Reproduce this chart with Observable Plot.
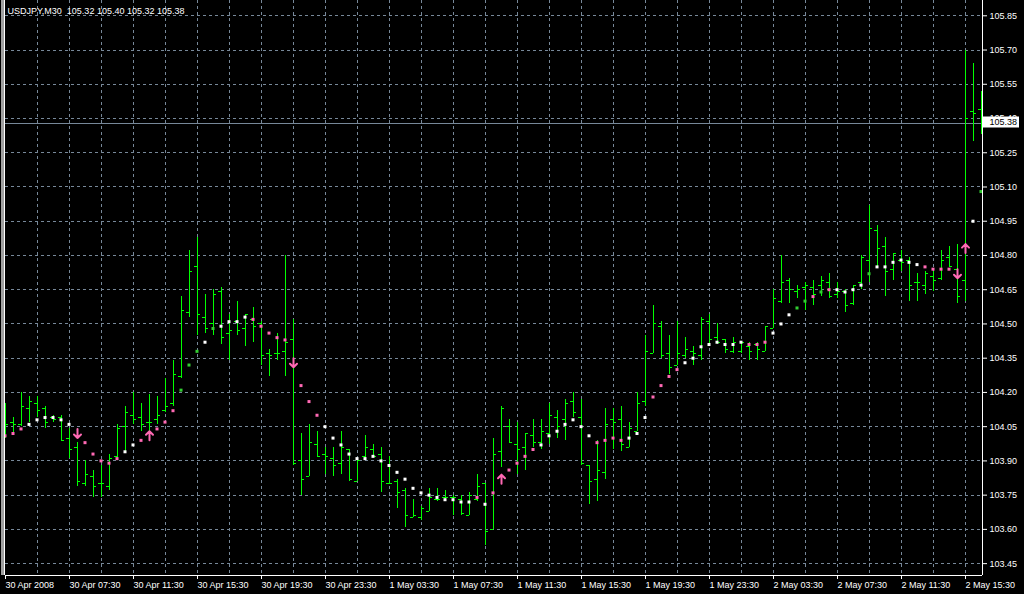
<!DOCTYPE html>
<html><head><meta charset="utf-8">
<script src="https://cdn.jsdelivr.net/npm/d3@7"></script>
<script src="https://cdn.jsdelivr.net/npm/@observablehq/plot@0.6"></script>
<style>
html,body{margin:0;padding:0;background:#000;overflow:hidden}
#chart{width:1024px;height:594px}
</style></head><body><div id="chart"></div>
<script>
const titleText = "USDJPY,M30  105.32 105.40 105.32 105.38";
const lastPrice = 105.38;

const opens = [104.03,104.07,104.06,104.13,104.15,104.13,104.09,104.09,104.00,103.96,
103.80,103.83,103.80,103.79,103.92,104.05,104.10,104.09,104.07,104.08,
104.12,104.15,104.27,104.55,104.75,104.53,104.50,104.64,104.46,104.51,
104.48,104.52,104.50,104.37,104.37,104.38,104.43,103.90,103.83,103.97,
103.93,103.91,103.89,103.95,103.81,103.92,103.95,103.93,103.80,103.81,
103.77,103.65,103.65,103.68,103.73,103.74,103.74,103.73,103.66,103.73,
103.80,103.60,103.94,104.05,103.97,103.96,104.01,103.98,104.02,104.09,
104.08,104.16,104.09,103.88,103.82,103.85,104.08,104.08,103.96,104.03,
104.16,104.37,104.49,104.37,104.32,104.36,104.38,104.36,104.51,104.44,
104.43,104.38,104.38,104.40,104.41,104.38,104.48,104.60,104.69,104.64,
104.66,104.66,104.67,104.68,104.63,104.64,104.59,104.68,104.78,104.91,
104.84,104.74,104.78,104.78,104.68,104.67,104.71,104.70,104.79,104.74,
104.69,105.43,105.44];
const highs = [104.15,104.09,104.20,104.18,104.18,104.14,104.10,104.10,104.04,103.98,
103.90,103.86,103.88,103.93,104.06,104.14,104.20,104.15,104.19,104.18,
104.26,104.34,104.62,104.82,104.88,104.63,104.65,104.66,104.54,104.60,
104.54,104.57,104.51,104.39,104.46,104.80,104.52,104.02,104.06,104.03,
103.96,103.96,104.03,103.95,103.91,104.01,103.97,103.96,103.92,103.82,
103.78,103.73,103.70,103.78,103.78,103.77,103.75,103.75,103.76,103.84,
103.80,104.00,104.14,104.08,104.07,104.02,104.08,104.08,104.15,104.12,
104.17,104.20,104.17,103.88,103.99,104.13,104.13,104.14,104.07,104.20,
104.45,104.58,104.51,104.45,104.51,104.44,104.40,104.53,104.54,104.50,
104.43,104.44,104.42,104.42,104.42,104.49,104.65,104.80,104.70,104.67,
104.68,104.69,104.71,104.72,104.68,104.65,104.67,104.80,105.02,104.93,
104.88,104.81,104.82,104.79,104.72,104.73,104.73,104.82,104.84,104.85,
105.70,105.64,105.52];
const lows = [104.00,104.02,104.05,104.07,104.09,104.04,104.07,103.99,103.91,103.79,
103.79,103.74,103.74,103.77,103.90,103.94,104.06,104.03,104.03,104.06,
104.11,104.14,104.26,104.53,104.45,104.46,104.45,104.41,104.34,104.45,
104.40,104.42,104.32,104.27,104.34,104.27,103.88,103.75,103.83,103.92,
103.84,103.83,103.84,103.81,103.81,103.91,103.92,103.76,103.80,103.69,
103.61,103.65,103.64,103.68,103.72,103.73,103.66,103.66,103.66,103.72,
103.53,103.60,103.87,103.98,103.84,103.86,103.96,103.95,103.97,104.00,
103.99,104.09,103.88,103.71,103.72,103.82,103.95,103.94,103.96,104.03,
104.14,104.37,104.35,104.28,104.32,104.35,104.32,104.34,104.41,104.41,
104.37,104.37,104.37,104.34,104.34,104.38,104.48,104.59,104.59,104.61,
104.56,104.58,104.62,104.61,104.61,104.55,104.58,104.65,104.68,104.75,
104.62,104.69,104.73,104.60,104.60,104.63,104.64,104.69,104.75,104.59,
104.60,105.30,105.33];
const closes = [104.06,104.06,104.14,104.16,104.12,104.07,104.08,103.99,103.95,103.81,
103.84,103.79,103.80,103.91,104.04,104.11,104.08,104.06,104.07,104.10,
104.14,104.28,104.56,104.73,104.54,104.48,104.63,104.44,104.47,104.47,
104.54,104.49,104.36,104.36,104.37,104.42,103.89,103.82,103.98,103.92,
103.92,103.88,103.96,103.82,103.90,103.96,103.92,103.81,103.80,103.76,
103.66,103.66,103.69,103.74,103.73,103.74,103.74,103.67,103.75,103.79,
103.59,103.93,104.13,103.98,103.95,104.02,103.98,104.03,104.10,104.05,
104.15,104.11,103.89,103.81,103.86,104.06,104.07,103.97,104.04,104.15,
104.38,104.50,104.36,104.31,104.37,104.39,104.37,104.52,104.43,104.42,
104.39,104.42,104.42,104.38,104.39,104.49,104.61,104.68,104.65,104.65,
104.67,104.63,104.69,104.62,104.64,104.58,104.67,104.79,104.92,104.83,
104.73,104.81,104.77,104.67,104.68,104.72,104.69,104.78,104.75,104.62,
105.40,105.42,105.38];

// indicator dots (null where an arrow is drawn instead)
const dotValues = [104.01,104.02,104.04,104.06,104.08,104.09,104.09,104.08,104.06,null,
103.98,103.93,103.90,103.89,103.91,103.94,103.97,103.99,null,104.04,
104.07,104.12,104.21,104.32,104.38,104.42,104.48,104.49,104.51,104.51,
104.53,104.52,104.49,104.46,104.44,104.43,null,104.23,104.16,104.10,
104.05,104.00,103.97,103.93,103.91,103.91,103.92,103.90,103.88,103.85,
103.82,103.78,103.76,103.75,103.74,103.73,103.73,103.72,103.72,103.74,
103.71,103.76,null,103.86,103.89,103.92,103.95,103.97,104.01,104.03,
104.06,104.08,104.05,104.01,103.98,103.99,104.00,103.99,104.00,104.02,
104.09,104.18,104.23,104.27,104.30,104.33,104.35,104.40,104.41,104.42,
104.41,104.41,104.42,104.41,104.41,104.42,104.46,104.50,104.54,104.57,
104.60,104.62,104.64,104.65,104.65,104.64,104.65,104.67,104.72,104.75,
104.75,104.77,104.78,104.77,104.76,104.75,104.74,104.74,104.74,null,
null,104.95,105.08];
// w = white, p = pink, g = green, x = arrow bar
const dotColors = [
  "pppwwwwwwx", "pppppwwpxp", "ppgggwgwww", "wpppppxppp", "wwwwwwwwww",
  "wwwwwwwwwp", "wpxppppwww", "wwwwppppww", "wppppwwwww", "wwwpppwwwg",
  "gpgpwwwwgw", "wwwwwppppx", "xwg"
].join("").split("");

const downArrows = [{i: 9, v: 104.02}, {i: 36, v: 104.33}, {i: 119, v: 104.72}];
const upArrows = [{i: 18, v: 104.01}, {i: 62, v: 103.82}, {i: 120, v: 104.83}];

const priceTicks = [103.45,103.60,103.75,103.90,104.05,104.20,104.35,104.50,104.65,104.80,104.95,105.10,105.25,105.40,105.55,105.70,105.85];
const labelBars = [0,8,16,24,32,40,48,56,64,72,80,88,96,104,112,120];
const timeLabels = ["30 Apr 2008","30 Apr 07:30","30 Apr 11:30","30 Apr 15:30","30 Apr 19:30","30 Apr 23:30",
"1 May 03:30","1 May 07:30","1 May 11:30","1 May 15:30","1 May 19:30","1 May 23:30",
"2 May 03:30","2 May 07:30","2 May 11:30","2 May 15:30"];

const bars = opens.map((o, i) => ({i, o, h: highs[i], l: lows[i], c: closes[i]}));
const dots = dotValues.map((v, i) => ({i, v, c: dotColors[i]})).filter(d => d.v != null);
const colorOf = {w: "#ffffff", p: "#ff69b4", g: "#32cd32"};
const gridBars = d3.range(4, 123, 4);
const xDomain = [0, 122.125];
const yDomain = [103.398, 105.917];
const GRID = "#778899";
const FONT = 9;

const arrowShape = {
  draw(ctx, l) {
    ctx.moveTo(0, 0); ctx.lineTo(0, -l);
    ctx.moveTo(-3.5, -l + 3.5); ctx.lineTo(0, -l); ctx.lineTo(3.5, -l + 3.5);
  }
};

const chart = Plot.plot({
  width: 1024, height: 594,
  marginLeft: 5, marginRight: 42, marginTop: 0, marginBottom: 19,
  style: {background: "#000", fontFamily: "'Liberation Sans', Arial, sans-serif", color: "#fff"},
  x: {domain: xDomain, axis: null},
  y: {domain: yDomain, axis: null},
  marks: [
    Plot.ruleY(priceTicks, {stroke: GRID, strokeDasharray: "3,3", shapeRendering: "crispEdges"}),
    Plot.ruleX(gridBars, {stroke: GRID, strokeDasharray: "3,3", shapeRendering: "crispEdges"}),
    Plot.ruleY([lastPrice], {stroke: GRID, shapeRendering: "crispEdges"}),
    Plot.ruleX(bars, {x: "i", y1: "l", y2: "h", stroke: "#00ff00", shapeRendering: "crispEdges"}),
    Plot.ruleY(bars, {y: "o", x1: d => d.i - 0.375, x2: "i", stroke: "#00ff00", shapeRendering: "crispEdges"}),
    Plot.ruleY(bars, {y: "c", x1: "i", x2: d => d.i + 0.375, stroke: "#00ff00", shapeRendering: "crispEdges"}),
    Plot.dot(dots, {x: "i", y: "v", symbol: "square", r: 1.7, dx: -0.5, fill: d => colorOf[d.c], stroke: null}),
    Plot.vector(downArrows, {x: "i", y: "v", length: 9, rotate: 180, anchor: "middle", shape: arrowShape, stroke: "#ff69b4", strokeWidth: 2}),
    Plot.vector(upArrows, {x: "i", y: "v", length: 9, rotate: 0, anchor: "middle", shape: arrowShape, stroke: "#ff69b4", strokeWidth: 2}),
    Plot.ruleY([yDomain[0]], {stroke: "#fff", shapeRendering: "crispEdges"}),
    Plot.ruleX([xDomain[1]], {stroke: "#fff", shapeRendering: "crispEdges"}),
    Plot.ruleX([xDomain[0]], {stroke: "#fff", dx: -1, shapeRendering: "crispEdges"}),
    Plot.ruleX([xDomain[0]], {stroke: "#a0a0a0", strokeWidth: 3, dx: -3.5, shapeRendering: "crispEdges"}),
    Plot.axisY({anchor: "right", ticks: priceTicks, tickFormat: d3.format(".2f"), tickSize: 4, tickPadding: 3,
      stroke: "#fff", fill: "#fff", fontSize: FONT, label: null}),
    Plot.axisX({anchor: "bottom", ticks: labelBars, tickFormat: d => timeLabels[labelBars.indexOf(d)],
      tickSize: 4, tickPadding: 2, textAnchor: "start", stroke: "#fff", fill: "#fff", fontSize: FONT, label: null}),
    Plot.ruleY([lastPrice], {stroke: "#fff", strokeWidth: 11, insetLeft: 978, insetRight: -37, dy: -1}),
    Plot.text([lastPrice], {y: d => d, text: d3.format(".2f"), frameAnchor: "right", textAnchor: "start", dx: 7, dy: -1, fill: "#000", fontSize: FONT}),
    Plot.text([titleText], {frameAnchor: "top-left", text: d => d, textAnchor: "start", lineAnchor: "top", dx: 2, dy: 7, fill: "#fff", fontSize: FONT})
  ]
});
document.getElementById("chart").appendChild(chart);
</script>
</body></html>
